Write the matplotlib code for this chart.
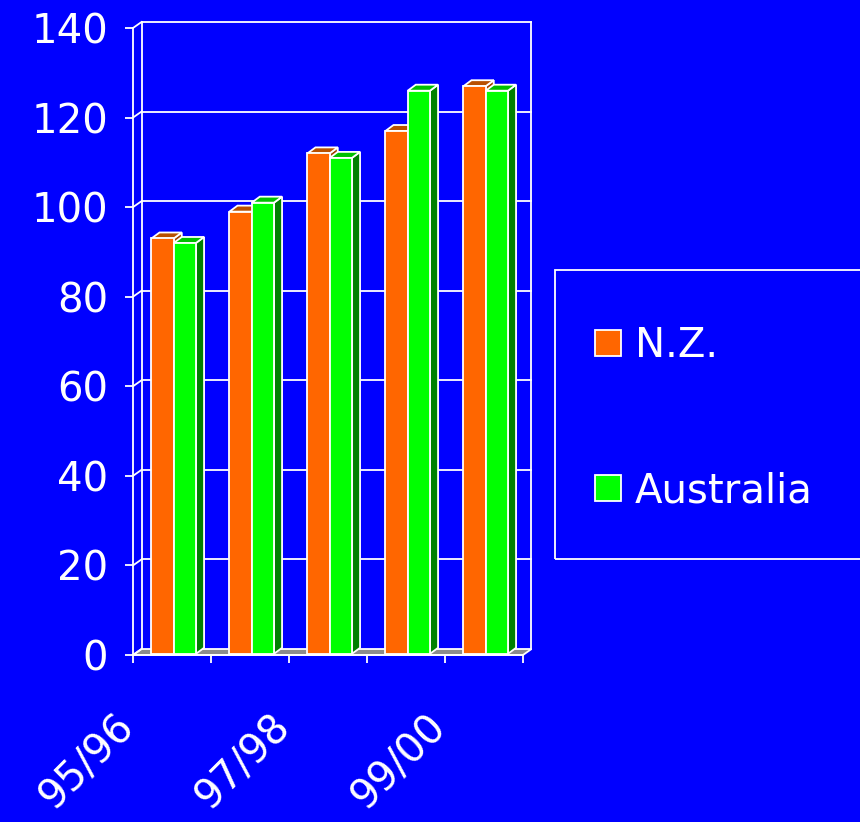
import matplotlib
matplotlib.use("Agg")
import matplotlib.pyplot as plt
from matplotlib.patches import Polygon, Rectangle
from matplotlib.transforms import ScaledTranslation

# ---- data ----
categories = ["95/96", "96/97", "97/98", "98/99", "99/00"]
shown_labels = ["95/96", "97/98", "99/00"]
series_names = ["N.Z.", "Australia"]
nz_values = [93, 99, 112, 117, 127]
aus_values = [92, 101, 111, 126, 126]
y_ticks = [0, 20, 40, 60, 80, 100, 120, 140]

BG = "#0000FF"
face_cols = ["#FF6600", "#00FF00"]
top_cols = ["#B85000", "#00C000"]
side_cols = ["#A04000", "#008000"]
FONT = "DejaVu Sans"
FS_Y = 29
FS_X = 29
FS_L = 29

W, H = 860, 822
fig = plt.figure(figsize=(W / 100, H / 100), dpi=100, facecolor=BG)
ax = fig.add_axes([133 / W, (H - 655) / H, 390 / W, 627 / H])
ax.set_facecolor("none")
ncat = len(categories)
ax.set_xlim(0, ncat)
ax.set_ylim(0, 140)

# depth offsets in data units
DX = 8.5 / 78.0
DY = 6.0 / (627 / 140)

LW = 1.3
WH = "white"

# floor
floor = Polygon([(0, 0), (ncat, 0), (ncat + DX, DY), (DX, DY)], closed=True,
                fc="#8C8C8C", ec=WH, lw=LW, zorder=1.5, clip_on=False)
ax.add_patch(floor)

# back wall gridlines and frame
for v in y_ticks[1:]:
    ax.plot([DX, ncat + DX], [v + DY, v + DY], color=WH, lw=LW, zorder=1, clip_on=False)
    ax.plot([0, DX], [v, v + DY], color=WH, lw=LW, zorder=1, clip_on=False)
ax.plot([DX, DX], [DY, 140 + DY], color=WH, lw=LW, zorder=1, clip_on=False)
ax.plot([ncat + DX, ncat + DX], [DY, 140 + DY], color=WH, lw=LW, zorder=1, clip_on=False)
ax.plot([0, DX], [0, DY], color=WH, lw=LW, zorder=1.6, clip_on=False)

# bars
gap = 1.5
bw = 1.0 / (2 + gap)
f_off = 0.2
bdx, bdy = DX * 0.95, DY * 1.0

for i in range(ncat):
    for s, vals in enumerate([nz_values, aus_values]):
        v = vals[i]
        x0 = i + gap / 2 * bw + s * bw + f_off * DX
        y0 = f_off * DY
        side = Polygon([(x0 + bw, y0), (x0 + bw + bdx, y0 + bdy),
                        (x0 + bw + bdx, v + bdy), (x0 + bw, v)], closed=True,
                       fc=side_cols[s], ec=WH, lw=LW, zorder=3, clip_on=False)
        top = Polygon([(x0, v), (x0 + bw, v), (x0 + bw + bdx, v + bdy),
                       (x0 + bdx, v + bdy)], closed=True,
                      fc=top_cols[s], ec=WH, lw=LW, zorder=3, clip_on=False)
        front = Rectangle((x0, y0), bw, v - y0, fc=face_cols[s], ec=WH,
                          lw=LW, zorder=3, clip_on=False)
        ax.add_patch(side)
        ax.add_patch(top)
        ax.add_patch(front)

# axes styling
for name in ["top", "right"]:
    ax.spines[name].set_visible(False)
for name in ["left", "bottom"]:
    ax.spines[name].set_color(WH)
    ax.spines[name].set_linewidth(LW)
    ax.spines[name].set_zorder(4)

ax.set_yticks(y_ticks)
ax.set_yticklabels([str(t) for t in y_ticks])
ax.tick_params(axis="y", colors=WH, length=5.8, width=LW, pad=12,
               labelsize=FS_Y, direction="out")

centers = [i + 0.5 for i in range(ncat)]
ax.set_xticks([centers[categories.index(c)] for c in shown_labels])
ax.set_xticklabels(shown_labels, rotation=45, ha="right", va="top")
ax.set_xticks(list(range(ncat + 1)), minor=True)
ax.tick_params(axis="x", which="major", length=0, colors=WH, labelsize=FS_X, pad=0)
ax.tick_params(axis="x", which="minor", length=5.8, width=LW, color=WH,
               direction="out")
offset = ScaledTranslation(-0.30, -0.52, fig.dpi_scale_trans)
for lab in ax.get_xticklabels():
    lab.set_transform(lab.get_transform() + offset)
for lab in ax.get_xticklabels() + ax.get_yticklabels():
    lab.set_fontfamily(FONT)
    lab.set_color(WH)

# legend (manual, partly beyond right edge as in the reference)
fig.add_artist(Rectangle((555 / W, (H - 559) / H), 330 / W, 289 / H,
                         transform=fig.transFigure, fill=False, ec=WH, lw=LW))
leg_y = [343, 488]
for s, name in enumerate(series_names):
    yc = leg_y[s]
    fig.add_artist(Rectangle((595 / W, (H - yc - 13) / H), 26 / W, 26 / H,
                             transform=fig.transFigure, fc=face_cols[s], ec=WH, lw=LW))
    fig.text(635 / W, (H - yc - 14) / H, name, color=WH, fontsize=FS_L,
             family=FONT, va="baseline", ha="left")

fig.savefig("out.png", dpi=100, facecolor=BG)
